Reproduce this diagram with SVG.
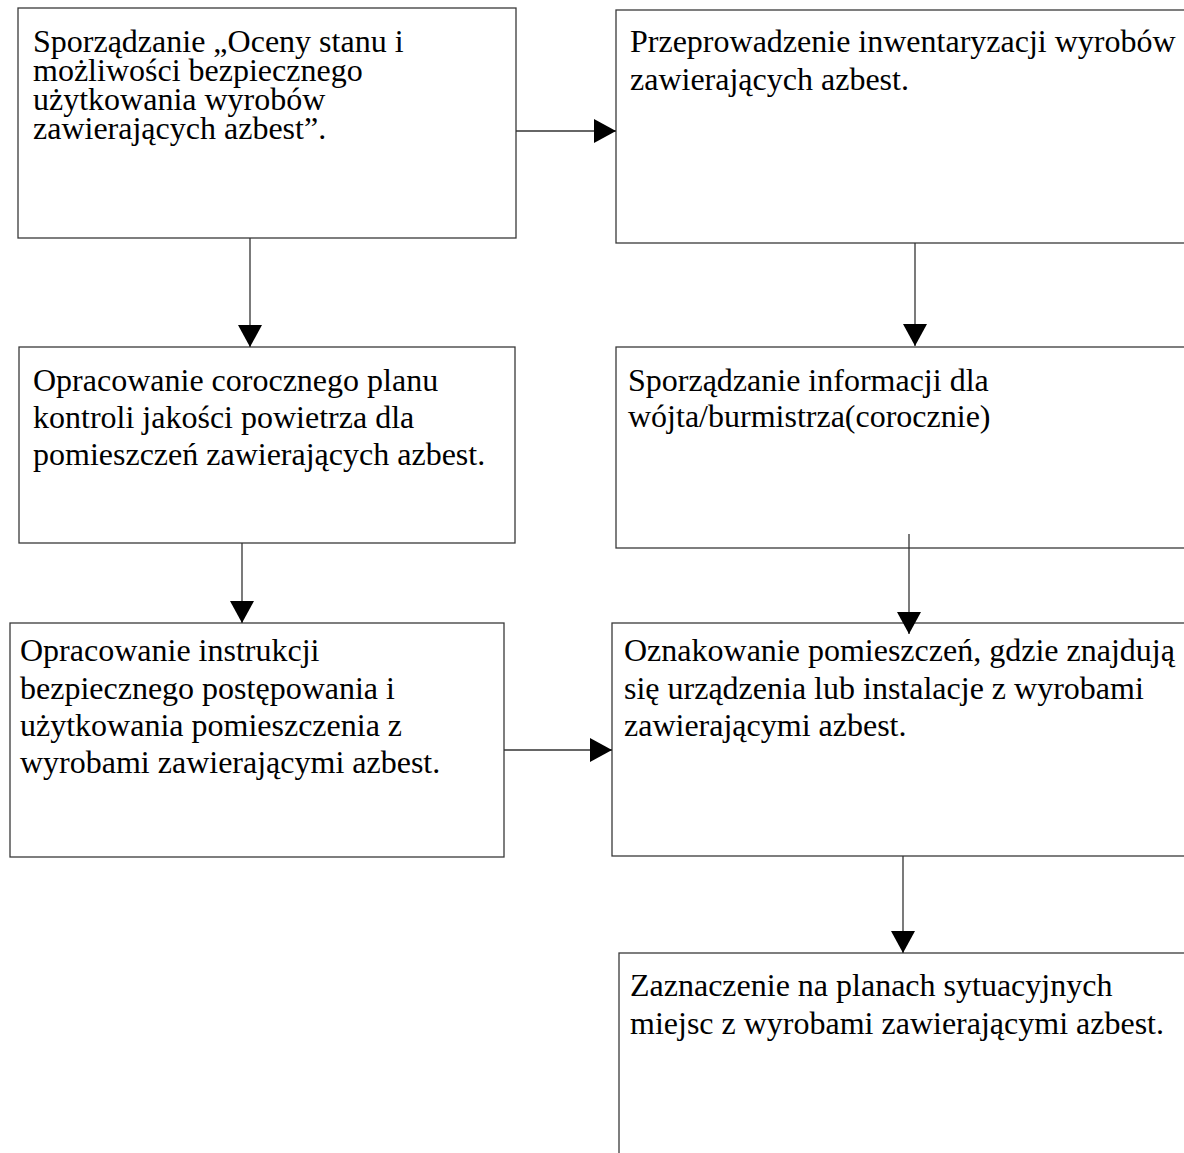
<svg xmlns="http://www.w3.org/2000/svg" width="1184" height="1153" viewBox="0 0 1184 1153">
<style>
.box{fill:#fff;stroke:#3a3a3a;stroke-width:1.3}
.t{font-family:"Liberation Serif","Times New Roman",serif;font-size:32px;fill:#000}
.c{fill:none;stroke:#333;stroke-width:1.3}
</style>
<defs>
<marker id="ah" markerUnits="userSpaceOnUse" markerWidth="22" markerHeight="24" refX="22" refY="12" orient="auto">
<path d="M0,0 L22,12 L0,24 z" fill="#000"/>
</marker>
</defs>
<rect width="1184" height="1153" fill="#fff"/>
<g id="n1">
<rect class="box" x="18" y="8" width="498" height="230"/>
<text class="t" x="33" y="52">Sporządzanie „Oceny stanu i</text>
<text class="t" x="33" y="81">możliwości bezpiecznego</text>
<text class="t" x="33" y="110">użytkowania wyrobów</text>
<text class="t" x="33" y="139">zawierających azbest”.</text>
</g>
<g id="n2">
<rect class="box" x="616" y="10" width="580" height="233"/>
<text class="t" x="630" y="52">Przeprowadzenie inwentaryzacji wyrobów</text>
<text class="t" x="630" y="90">zawierających azbest.</text>
</g>
<g id="n3">
<rect class="box" x="19" y="347" width="496" height="196"/>
<text class="t" x="33" y="391">Opracowanie corocznego planu</text>
<text class="t" x="33" y="428">kontroli jakości powietrza dla</text>
<text class="t" x="33" y="465">pomieszczeń zawierających azbest.</text>
</g>
<g id="n4">
<rect class="box" x="616" y="347" width="580" height="201"/>
<text class="t" x="628" y="391">Sporządzanie informacji dla</text>
<text class="t" x="628" y="427">wójta/burmistrza(corocznie)</text>
</g>
<g id="n5">
<rect class="box" x="10" y="623" width="494" height="234"/>
<text class="t" x="20" y="661">Opracowanie instrukcji</text>
<text class="t" x="20" y="699">bezpiecznego postępowania i</text>
<text class="t" x="20" y="736">użytkowania pomieszczenia z</text>
<text class="t" x="20" y="773">wyrobami zawierającymi azbest.</text>
</g>
<g id="n6">
<rect class="box" x="612" y="623" width="584" height="233"/>
<text class="t" x="624" y="661">Oznakowanie pomieszczeń, gdzie znajdują</text>
<text class="t" x="624" y="699">się urządzenia lub instalacje z wyrobami</text>
<text class="t" x="624" y="736">zawierającymi azbest.</text>
</g>
<g id="n7">
<rect class="box" x="619" y="953" width="580" height="220"/>
<text class="t" x="630" y="996">Zaznaczenie na planach sytuacyjnych</text>
<text class="t" x="630" y="1034">miejsc z wyrobami zawierającymi azbest.</text>
</g>
<g id="connectors">
<path class="c" d="M516,131 H616" marker-end="url(#ah)"/>
<path class="c" d="M250,238 V347" marker-end="url(#ah)"/>
<path class="c" d="M915,243 V346" marker-end="url(#ah)"/>
<path class="c" d="M242,543 V623" marker-end="url(#ah)"/>
<path class="c" d="M909,534 V634" marker-end="url(#ah)"/>
<path class="c" d="M504,750 H612" marker-end="url(#ah)"/>
<path class="c" d="M903,856 V953" marker-end="url(#ah)"/>
</g>
</svg>
